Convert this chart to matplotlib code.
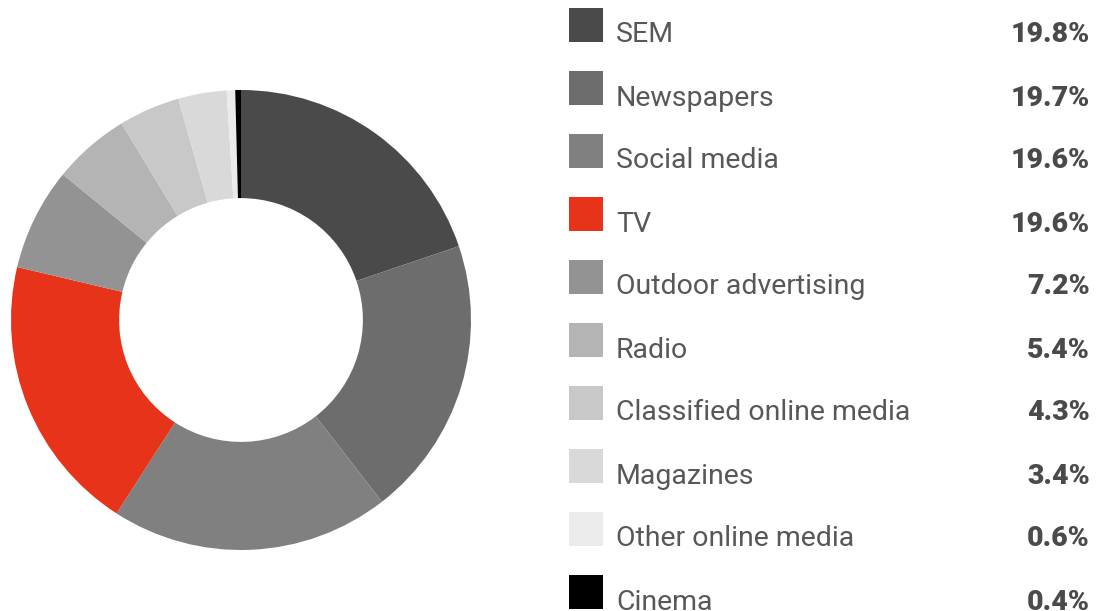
import matplotlib.pyplot as plt
from matplotlib.patches import Rectangle

# media share of ad spend
channels = ["SEM", "Newspapers", "Social media", "TV", "Outdoor advertising",
            "Radio", "Classified online media", "Magazines",
            "Other online media", "Cinema"]
shares = [19.8, 19.7, 19.6, 19.6, 7.2, 5.4, 4.3, 3.4, 0.6, 0.4]
colors = ["#4a4a4a", "#6d6d6d", "#808080", "#e8331b", "#939393",
          "#b4b4b4", "#c8c8c8", "#d9d9d9", "#ebebeb", "#000000"]

W, H = 1097, 611
fig = plt.figure(figsize=(W / 100, H / 100), dpi=100)

# donut on the left
ax = fig.add_axes([11 / W, 61 / H, 460 / W, 460 / H])
ax.pie(shares, colors=colors, startangle=90, counterclock=False,
       radius=1, wedgeprops=dict(width=0.47, linewidth=0))
ax.set_xlim(-1, 1)
ax.set_ylim(-1, 1)
ax.set_aspect("equal")
ax.axis("off")

# legend drawn in pixel coordinates
lg = fig.add_axes([0, 0, 1, 1])
lg.set_xlim(0, W)
lg.set_ylim(H, 0)
lg.axis("off")

step = 63
for i, (name, val, col) in enumerate(zip(channels, shares, colors)):
    top = 8 + i * step
    lg.add_patch(Rectangle((569, top), 34, 34, facecolor=col, linewidth=0))
    lg.text(616, top + 34.5, name, fontsize=20.5, family="Roboto",
            fontweight="normal", color="#585858", va="baseline")
    lg.text(1090, top + 34.5, f"{val:.1f}%", fontsize=20.5, family="Roboto",
            fontweight="heavy", color="#4a4a4a", va="baseline", ha="right")

fig.savefig("out.png", dpi=100)
